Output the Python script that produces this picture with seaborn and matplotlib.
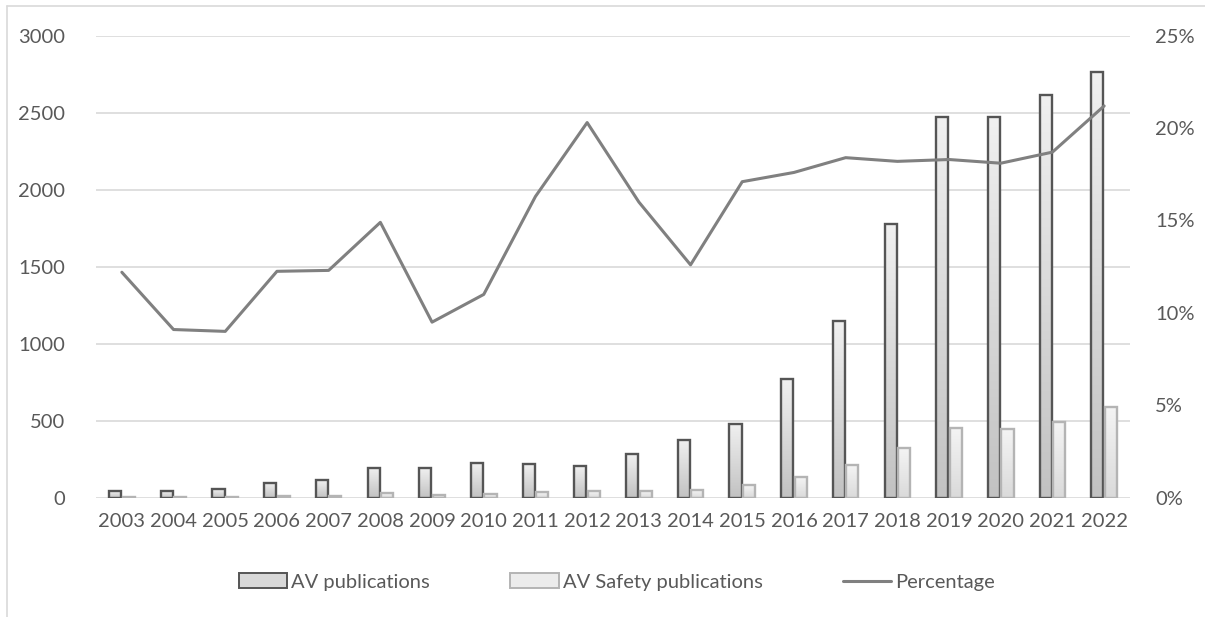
import numpy as np
import pandas as pd
import matplotlib
matplotlib.use("Agg")
import matplotlib.pyplot as plt
import seaborn as sns
from matplotlib.lines import Line2D
from matplotlib.patches import Rectangle
from matplotlib.ticker import FuncFormatter, MultipleLocator
from matplotlib.colors import to_rgb

years = [str(y) for y in range(2003, 2023)]
av_pubs = [42, 45, 58, 98, 115, 195, 190, 228, 220, 205, 282, 372, 480, 772,
           1150, 1778, 2475, 2475, 2618, 2765]
safety_pubs = [5, 4, 5, 12, 14, 29, 18, 25, 36, 42, 45, 47, 82, 136,
               212, 324, 453, 448, 492, 590]
percentage = [0.122, 0.091, 0.090, 0.1225, 0.123, 0.149, 0.095, 0.110, 0.163,
              0.203, 0.160, 0.126, 0.171, 0.176, 0.184, 0.182, 0.183, 0.181,
              0.187, 0.212]
series_names = ["AV publications", "AV Safety publications", "Percentage"]

df = pd.DataFrame({
    "Year": years * 2,
    "Series": [series_names[0]] * len(years) + [series_names[1]] * len(years),
    "Value": av_pubs + safety_pubs,
})
line_df = pd.DataFrame({"pos": np.arange(len(years)), "Percentage": percentage})

sns.set_theme(style="white")
FONT = "Lato"
TXT = "#595959"
plt.rcParams["font.family"] = [FONT, "DejaVu Sans"]

fig = plt.figure(figsize=(12.05, 6.17), dpi=100)
ax = fig.add_axes([96 / 1205, 1 - 497.7 / 617, (1130 - 96) / 1205, (497.7 - 35.7) / 617])

edge_colors = {series_names[0]: "#555555", series_names[1]: "#b4b4b4"}
grad = {series_names[0]: ("#f0f0f0", "#c2c2c2"), series_names[1]: ("#f4f4f4", "#dadada")}

sns.barplot(data=df, x="Year", y="Value", hue="Series", ax=ax, width=0.52, gap=0.1,
            palette=["#d0d0d0", "#ececec"], legend=False, zorder=3)

ax.set_ylim(0, 3000)
ax.set_xlim(-0.5, len(years) - 0.5)

# gradient fill for bars
for cont, name in zip(ax.containers, series_names[:2]):
    top_c = np.array(to_rgb(grad[name][0]))
    bot_c = np.array(to_rgb(grad[name][1]))
    for p in cont.patches:
        x0, y0 = p.get_x(), p.get_y()
        w, h = p.get_width(), p.get_height()
        if h <= 0:
            continue
        t = np.linspace(0, 1, 64)[:, None]
        img = (top_c[None, :] * (1 - t) + bot_c[None, :] * t)[:, None, :]
        ax.imshow(img, extent=[x0, x0 + w, y0, y0 + h], origin="upper",
                  aspect="auto", zorder=3, interpolation="bilinear")
        p.set_facecolor("none")
        p.set_edgecolor(edge_colors[name])
        p.set_linewidth(1.7)
        p.set_zorder(4)

ax.set_ylim(0, 3000)
ax.set_xlim(-0.5, len(years) - 0.5)
ax.yaxis.set_major_locator(MultipleLocator(500))
ax.grid(axis="y", color="#d9d9d9", linewidth=1.2, zorder=0)
ax.set_axisbelow(True)
for s in ax.spines.values():
    s.set_visible(False)
ax.tick_params(axis="both", length=0, labelsize=14.5, colors=TXT)
ax.tick_params(axis="y", pad=22)
ax.tick_params(axis="x", pad=11)
ax.set_xlabel("")
ax.set_ylabel("")

ax2 = ax.twinx()
sns.lineplot(data=line_df, x="pos", y="Percentage", ax=ax2, color="#808080",
             linewidth=2.2, zorder=5)
ax2.set_ylim(0, 0.25)
ax2.set_xlim(-0.5, len(years) - 0.5)
ax2.yaxis.set_major_locator(MultipleLocator(0.05))
ax2.yaxis.set_major_formatter(FuncFormatter(lambda v, _: f"{v * 100:.0f}%"))
for s in ax2.spines.values():
    s.set_visible(False)
ax2.tick_params(axis="y", length=0, labelsize=14.5, colors=TXT, pad=18)
ax2.set_ylabel("")
ax2.set_xlabel("")
ax2.grid(False)

# legend
handles = [
    Rectangle((0, 0), 1, 1, facecolor="#d8d8d8", edgecolor=edge_colors[series_names[0]], linewidth=1.4),
    Rectangle((0, 0), 1, 1, facecolor="#ececec", edgecolor=edge_colors[series_names[1]], linewidth=1.4),
    Line2D([0], [0], color="#808080", linewidth=2.2),
]
fig.legend(handles, series_names, loc="center", bbox_to_anchor=(0.512, 1 - 582 / 617),
           ncol=3, frameon=False, fontsize=14.5, labelcolor=TXT,
           handlelength=2.4, handleheight=0.7, handletextpad=0.2, columnspacing=4.0)

# outer chart frame (top and left edges visible)
fig.add_artist(Line2D([7 / 1205, 7 / 1205], [0, 1 - 6 / 617], color="#d9d9d9", linewidth=1.2))
fig.add_artist(Line2D([7 / 1205, 1], [1 - 6 / 617, 1 - 6 / 617], color="#d9d9d9", linewidth=1.2))

fig.savefig("out.png", dpi=100, facecolor="white")
